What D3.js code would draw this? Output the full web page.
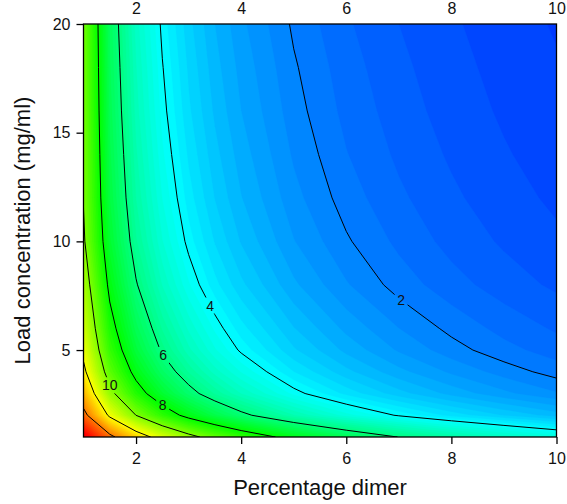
<!DOCTYPE html>
<html>
<head>
<meta charset="utf-8">
<script src="https://cdn.jsdelivr.net/npm/d3@7"></script>
<style>
body { margin: 0; background: #fff; }
text { font-family: "Liberation Sans", Arial, sans-serif; fill: #111; }
</style>
</head>
<body>
<div id="chart"></div>
<script>
// grid: rows are load concentration, columns percentage dimer
var dimer = [1, 1.5, 2, 2.5, 3, 3.5, 4, 5, 6, 7, 8, 9, 10];
var load = [1, 2, 3, 4, 5, 6, 8, 10, 12, 14, 16, 18, 20];
var zRows = [
    [16.39, 14.32, 12.71, 11.42, 10.37, 9.50, 8.76, 7.59, 6.69, 5.98, 5.41, 4.94, 4.54],
    [14.39, 11.79, 9.99, 8.67, 7.65, 6.85, 6.20, 5.21, 4.49, 3.95, 3.52, 3.18, 2.90],
    [13.16, 10.34, 8.51, 7.23, 6.29, 5.56, 4.99, 4.13, 3.53, 3.08, 2.73, 2.45, 2.22],
    [12.27, 9.43, 7.66, 6.45, 5.57, 4.90, 4.38, 3.60, 3.06, 2.66, 2.36, 2.11, 1.91],
    [11.70, 8.81, 7.07, 5.90, 5.06, 4.43, 3.94, 3.23, 2.74, 2.37, 2.09, 1.87, 1.70],
    [11.30, 8.40, 6.69, 5.56, 4.75, 4.15, 3.68, 3.01, 2.54, 2.20, 1.94, 1.73, 1.57],
    [10.70, 7.74, 6.06, 4.98, 4.23, 3.67, 3.25, 2.64, 2.22, 1.91, 1.68, 1.50, 1.36],
    [10.15, 7.25, 5.63, 4.61, 3.90, 3.38, 2.98, 2.41, 2.03, 1.75, 1.53, 1.37, 1.24],
    [9.95, 6.99, 5.39, 4.39, 3.70, 3.19, 2.81, 2.27, 1.90, 1.64, 1.44, 1.28, 1.16],
    [9.90, 6.85, 5.24, 4.24, 3.56, 3.07, 2.70, 2.17, 1.81, 1.56, 1.37, 1.22, 1.10],
    [9.85, 6.72, 5.10, 4.11, 3.44, 2.96, 2.60, 2.09, 1.74, 1.50, 1.31, 1.17, 1.05],
    [9.82, 6.63, 5.01, 4.02, 3.36, 2.88, 2.53, 2.03, 1.69, 1.45, 1.27, 1.13, 1.02],
    [9.80, 6.54, 4.90, 3.92, 3.27, 2.80, 2.45, 1.96, 1.63, 1.40, 1.23, 1.09, 0.98]
];
var lineLevels = [2, 4, 6, 8, 10, 12, 14];
var labelLevels = [2, 4, 6, 8, 10];
var labelDimer = [6.95, 3.37, 2.51, 2.51, 1.52];
var labelLoad = [7.0, 7.0, 4.77, 2.47, 3.4];
var xTicks = [2, 4, 6, 8, 10];
var yTicks = [5, 10, 15, 20];

(function () {
    var width = 567,
        height = 504;
    var left = 83.5, right = 556.5, top = 24, bottom = 437;

    var svg = d3.select("#chart")
        .append("svg")
        .attr("width", width)
        .attr("height", height);

    var x = d3.scaleLinear().domain([1, 10]).range([left, right]);
    var y = d3.scaleLinear().domain([1, 20]).range([bottom, top]);

    var nx = dimer.length, ny = load.length;
    var values = [];
    zRows.forEach(function (row) { row.forEach(function (v) { values.push(v); }); });

    // d3.contours puts value i at the centre of cell i, so i + 0.5 -> grid value
    var gx = d3.scaleLinear().domain(dimer.map(function (d, i) { return i + 0.5; })).range(dimer);
    var gy = d3.scaleLinear().domain(load.map(function (d, i) { return i + 0.5; })).range(load);

    var path = d3.geoPath(d3.geoTransform({
        point: function (px, py) { this.stream.point(x(gx(px)), y(gy(py))); }
    }));

    var defs = svg.append("defs");
    defs.append("clipPath").attr("id", "plotclip")
        .append("rect")
        .attr("x", left).attr("y", top)
        .attr("width", right - left).attr("height", bottom - top);

    // filled bands, step 0.2
    var fillLevels = d3.range(4, 83).map(function (i) { return i / 5; });
    function bandColor(t) {
        var h = Math.max(0, Math.min(240, 240 - 15 * (t + 0.1)));
        return d3.hsl(h, 1, 0.5).toString();
    }

    var bands = d3.contours().size([nx, ny]).thresholds(fillLevels)(values);

    var plot = svg.append("g").attr("clip-path", "url(#plotclip)");

    plot.selectAll(".band")
        .data(bands)
        .enter().append("path")
        .attr("class", "band")
        .attr("d", path)
        .attr("fill", function (d) { return bandColor(d.value); })
        .attr("stroke", function (d) { return bandColor(d.value); })
        .attr("stroke-width", 0.3);

    var lines = d3.contours().size([nx, ny]).thresholds(lineLevels)(values);

    // put each label on its contour, nearest to where it sits in the picture
    function nearest(geom, px, py) {
        var best = [px, py], bd = Infinity;
        geom.coordinates.forEach(function (poly) {
            poly.forEach(function (ring) {
                var pts = ring.map(function (c) { return [x(gx(c[0])), y(gy(c[1]))]; });
                for (var i = 0; i < pts.length - 1; i++) {
                    var a = pts[i], b = pts[i + 1];
                    var dx = b[0] - a[0], dy = b[1] - a[1], L = dx * dx + dy * dy;
                    var t = L ? Math.max(0, Math.min(1, ((px - a[0]) * dx + (py - a[1]) * dy) / L)) : 0;
                    var qx = a[0] + t * dx, qy = a[1] + t * dy;
                    var dd = (qx - px) * (qx - px) + (qy - py) * (qy - py);
                    if (dd < bd) { bd = dd; best = [qx, qy]; }
                }
            });
        });
        return best;
    }

    var labels = labelLevels.map(function (lv, i) {
        var geom = lines.filter(function (c) { return c.value === lv; })[0];
        var p = nearest(geom, x(labelDimer[i]), y(labelLoad[i]));
        return { text: String(lv), x: p[0], y: p[1] };
    });

    var mask = defs.append("mask").attr("id", "labelmask");
    mask.append("rect").attr("x", 0).attr("y", 0).attr("width", width).attr("height", height).attr("fill", "white");
    mask.selectAll(".hole")
        .data(labels)
        .enter().append("rect")
        .attr("x", function (d) { return d.x - d.text.length * 4.5 - 2; })
        .attr("y", function (d) { return d.y - 8; })
        .attr("width", function (d) { return d.text.length * 9 + 4; })
        .attr("height", 16)
        .attr("fill", "black");

    plot.append("g")
        .attr("mask", "url(#labelmask)")
        .selectAll(".iso")
        .data(lines)
        .enter().append("path")
        .attr("class", "iso")
        .attr("d", path)
        .attr("fill", "none")
        .attr("stroke", "#000")
        .attr("stroke-width", 1);

    svg.selectAll(".clabel")
        .data(labels)
        .enter().append("text")
        .attr("class", "clabel")
        .attr("x", function (d) { return d.x; })
        .attr("y", function (d) { return d.y; })
        .attr("dy", "0.36em")
        .attr("text-anchor", "middle")
        .style("font-size", "14px")
        .text(function (d) { return d.text; });

    // frame
    svg.append("rect")
        .attr("x", left).attr("y", top)
        .attr("width", right - left).attr("height", bottom - top)
        .attr("fill", "none")
        .attr("stroke", "#000")
        .attr("stroke-width", 1.3);

    var xAxis = svg.append("g")
        .attr("transform", "translate(0," + bottom + ")")
        .call(d3.axisBottom(x).tickValues(xTicks).tickSize(7).tickPadding(9));
    var xTop = svg.append("g")
        .attr("transform", "translate(0," + top + ")")
        .call(d3.axisTop(x).tickValues(xTicks).tickSize(0).tickPadding(10));
    var yAxis = svg.append("g")
        .attr("transform", "translate(" + left + ",0)")
        .call(d3.axisLeft(y).tickValues(yTicks).tickSize(7).tickPadding(6));

    [xAxis, xTop, yAxis].forEach(function (g) {
        g.select(".domain").remove();
        g.selectAll("line").attr("stroke", "#000").attr("stroke-width", 1.3);
        g.selectAll("text").style("font-size", "16px").attr("fill", "#111")
            .style("font-family", "'Liberation Sans', Arial, sans-serif");
    });

    svg.append("text")
        .attr("x", (left + right) / 2)
        .attr("y", 495)
        .attr("text-anchor", "middle")
        .style("font-size", "22px")
        .text("Percentage dimer");

    svg.append("text")
        .attr("transform", "translate(30," + ((top + bottom) / 2) + ") rotate(-90)")
        .attr("text-anchor", "middle")
        .style("font-size", "22px")
        .text("Load concentration (mg/ml)");
})();
</script>
</body>
</html>
